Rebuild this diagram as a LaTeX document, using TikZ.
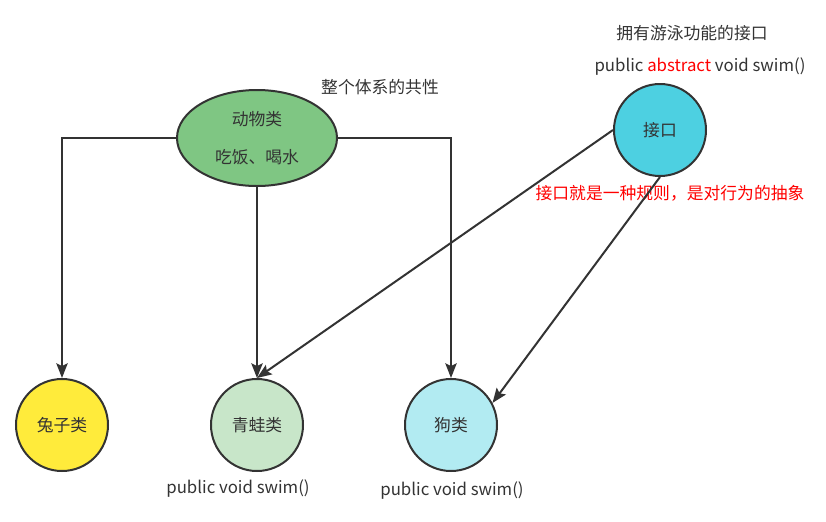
\documentclass[tikz,border=0pt]{standalone}
\usepackage{fontspec}
\setmainfont{Noto Sans CJK SC}
\usepackage{xcolor}
\usetikzlibrary{shapes.geometric,arrows.meta,positioning}

\definecolor{txtgray}{HTML}{333333}
\definecolor{animalgreen}{HTML}{7FC683}
\definecolor{rabbityellow}{HTML}{FFEB3B}
\definecolor{froggreen}{HTML}{C8E6C9}
\definecolor{dogcyan}{HTML}{B2EBF2}
\definecolor{ifacecyan}{HTML}{4DD0E1}

\tikzset{
    klasa/.style={circle, draw=txtgray, line width=1.5pt, minimum size=69pt,
        inner sep=0pt, text=txtgray, font=\fontsize{12.6}{14}\selectfont},
    opis/.style={text=txtgray, font=\fontsize{12.6}{14}\selectfont, inner sep=1pt},
    strzalka/.style={draw=txtgray, line width=1.5pt,
        -{Stealth[length=11pt, width=8.5pt, inset=2pt]}}
}

\begin{document}
\begin{tikzpicture}[x=0.75pt, y=-0.75pt]

    % obszar rysunku
    \useasboundingbox (0, 0) rectangle (826, 522);

    % klasa bazowa
    \node[ellipse, draw=txtgray, fill=animalgreen, line width=1.5pt,
        minimum width=120pt, minimum height=72pt, inner sep=0pt,
        text=txtgray, align=center, font=\fontsize{12.6}{14}\selectfont]
        (animal) at (257, 138) {动物类\\[15pt]吃饭、喝水};
    \node[opis] (common) at (380, 87) {整个体系的共性};

    % interfejs
    \node[klasa, fill=ifacecyan] (iface) at (660, 130) {接口};
    \node[opis] (ifacetitle) at (692, 33) {拥有游泳功能的接口};
    \node[opis] (ifacemethod) at (700, 67) {public \textcolor{red}{abstract} void swim()};
    \node[opis, text=red] (ifacerule) at (670, 193) {接口就是一种规则，是对行为的抽象};

    % podklasy
    \node[klasa, fill=rabbityellow] (rabbit) at (62, 425) {兔子类};
    \node[klasa, fill=froggreen] (frog) at (257, 425) {青蛙类};
    \node[klasa, fill=dogcyan] (dog) at (451, 425) {狗类};

    % metody podklas
    \node[opis] (frogswim) at (238, 489) {public void swim()};
    \node[opis] (dogswim) at (452, 491) {public void swim()};

    % dziedziczenie
    \draw[strzalka] (animal.west) -| (rabbit.north);
    \draw[strzalka] (animal.south) -- (frog.north);
    \draw[strzalka] (animal.east) -| (dog.north);

    % implementacja interfejsu
    \draw[strzalka] (iface.west) -- (frog.north);
    \draw[strzalka] (iface.south) -- (dog.28);

\end{tikzpicture}
\end{document}
